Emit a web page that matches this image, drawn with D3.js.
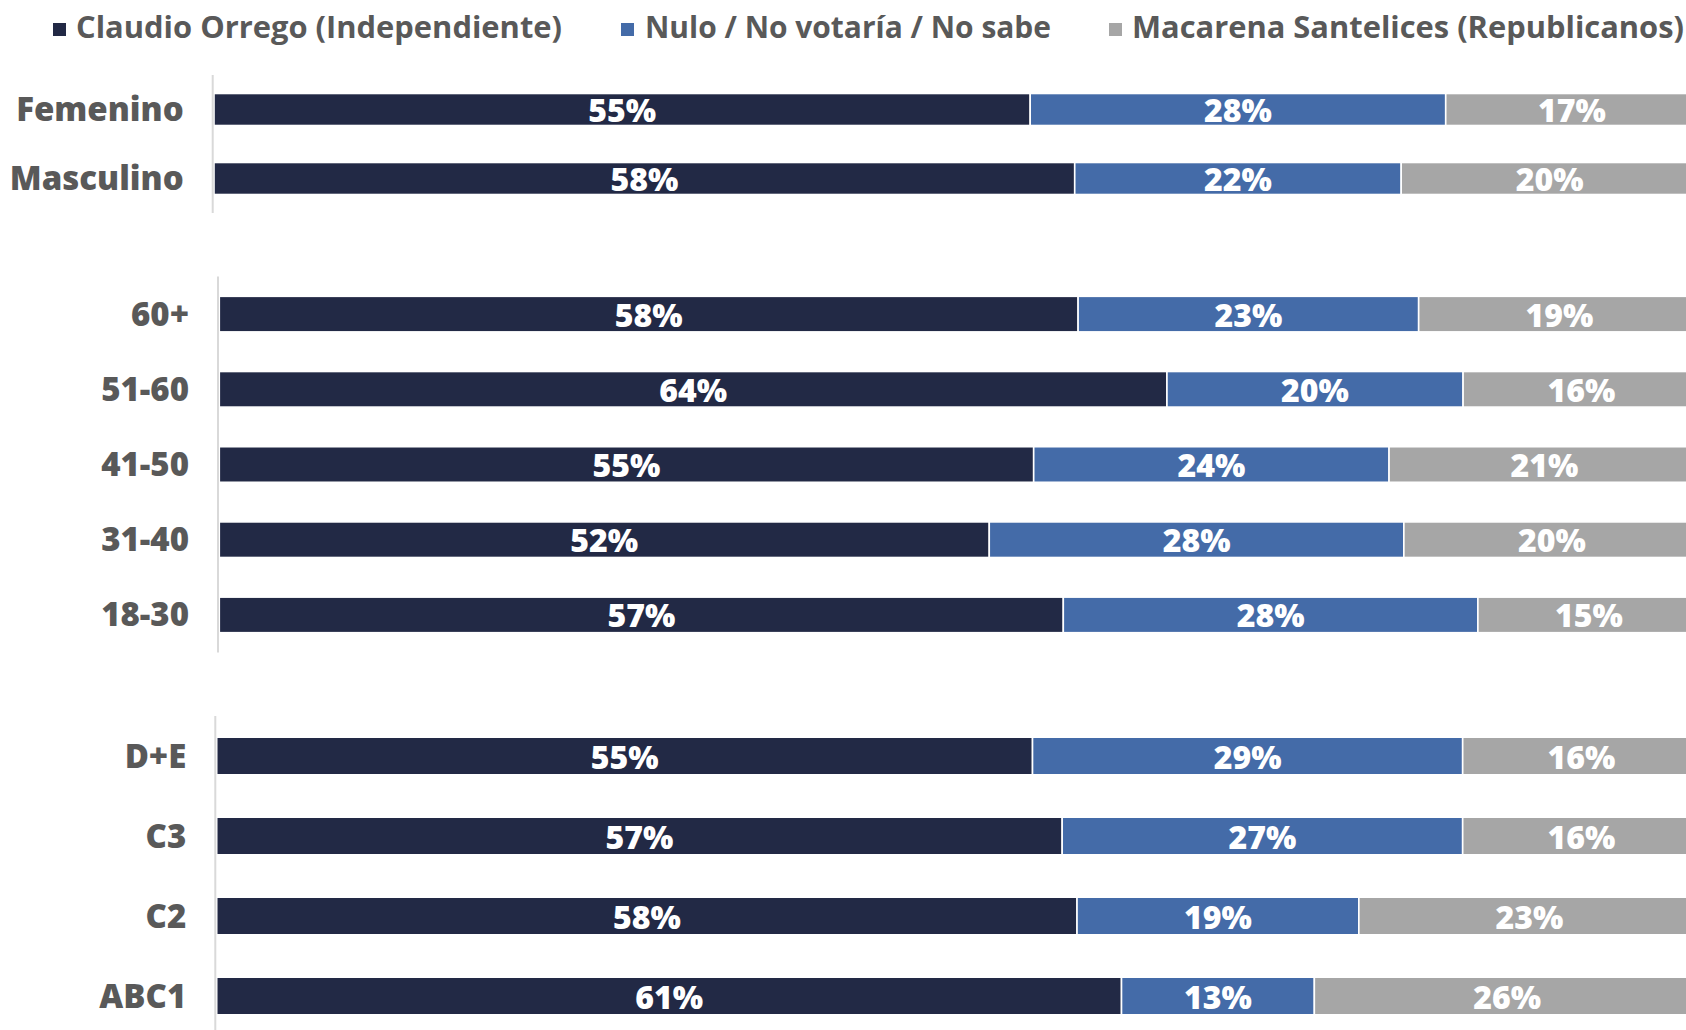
<!DOCTYPE html>
<html>
<head>
<meta charset="utf-8">
<script src="https://cdn.jsdelivr.net/npm/d3@7"></script>
<style>
  html, body { margin: 0; padding: 0; background: #ffffff; }
  svg { display: block; }
</style>
</head>
<body>
<svg id="chart" width="1686" height="1030"></svg>
<script>
// ---- Data ----
const seriesNames = ["Claudio Orrego (Independiente)", "Nulo / No votaría / No sabe", "Macarena Santelices (Republicanos)"];
const seriesColors = ["#222945", "#446BA8", "#A6A6A6"];

const genderCats = ["Femenino", "Masculino"];
const genderOrrego = [55, 58];
const genderNulo = [28, 22];
const genderSantelices = [17, 20];

const ageCats = ["60+", "51-60", "41-50", "31-40", "18-30"];
const ageOrrego = [58, 64, 55, 52, 57];
const ageNulo = [23, 20, 24, 28, 28];
const ageSantelices = [19, 16, 21, 20, 15];

const gseCats = ["D+E", "C3", "C2", "ABC1"];
const gseOrrego = [55, 57, 58, 61];
const gseNulo = [29, 27, 19, 13];
const gseSantelices = [16, 16, 23, 26];

// ---- Layout (panels) ----
const panels = [
  { cats: genderCats, vals: [genderOrrego, genderNulo, genderSantelices],
    axisX: 212.7, x0: 214, x1: 1698, y0: 75, y1: 213, pad: 0.536 },
  { cats: ageCats, vals: [ageOrrego, ageNulo, ageSantelices],
    axisX: 218, x0: 219.3, x1: 1700, y0: 276.5, y1: 652.5, pad: 0.527 },
  { cats: gseCats, vals: [gseOrrego, gseNulo, gseSantelices],
    axisX: 215.3, x0: 216.7, x1: 1700, y0: 716, y1: 1036, pad: 0.53 }
];

const svg = d3.select("#chart");
const labelFont = "'Open Sans', 'DejaVu Sans', sans-serif";

panels.forEach(p => {
  const g = svg.append("g");
  const x = d3.scaleLinear().domain([0, 100]).range([p.x0, p.x1]);
  const y = d3.scaleBand().domain(p.cats).range([p.y0, p.y1])
    .paddingInner(p.pad).paddingOuter(p.pad / 2);

  const rows = p.cats.map((c, i) => {
    let acc = 0;
    return p.vals.map((arr, s) => {
      const d = { cat: c, s: s, v: arr[i], start: acc };
      acc += arr[i];
      return d;
    });
  }).flat();

  g.selectAll("rect.seg").data(rows).enter().append("rect")
    .attr("class", "seg")
    .attr("x", d => x(d.start))
    .attr("y", d => y(d.cat))
    .attr("width", d => x(d.start + d.v) - x(d.start))
    .attr("height", y.bandwidth())
    .attr("fill", d => seriesColors[d.s])
    .attr("stroke", "#ffffff")
    .attr("stroke-width", 1.6);

  g.selectAll("text.val").data(rows).enter().append("text")
    .attr("class", "val")
    .attr("x", d => (x(d.start) + x(d.start + d.v)) / 2)
    .attr("y", d => y(d.cat) + y.bandwidth() / 2)
    .attr("text-anchor", "middle")
    .attr("dominant-baseline", "central")
    .attr("font-family", labelFont)
    .attr("font-weight", 800)
    .attr("font-size", 32)
    .attr("fill", "#ffffff")
    .text(d => d.v + "%");

  // axis line (category axis)
  const axis = d3.axisLeft(y).tickSize(0).tickPadding(29);
  const ag = g.append("g").attr("transform", `translate(${p.axisX},0)`).call(axis);
  ag.select(".domain").attr("stroke", "#D9D9D9").attr("stroke-width", 2)
    .attr("d", `M0,${p.y0}V${Math.min(p.y1, 1030)}`);
  ag.selectAll(".tick text")
    .attr("font-family", labelFont)
    .attr("font-weight", 800)
    .attr("font-size", 33)
    .attr("fill", "#595959")
    .attr("dy", "0.35em");
});

// ---- Legend ----
const legendItems = [
  { sq: 53, tx: 76, w: 486 },
  { sq: 621, tx: 645, w: 406 },
  { sq: 1109, tx: 1132, w: 552 }
];
const lg = svg.append("g");
legendItems.forEach((it, i) => {
  lg.append("rect").attr("x", it.sq).attr("y", 23).attr("width", 13).attr("height", 13)
    .attr("fill", seriesColors[i]);
  lg.append("text").attr("x", it.tx).attr("y", 38)
    .attr("font-family", labelFont).attr("font-weight", 700).attr("font-size", 31)
    .attr("fill", "#595959")
    .attr("textLength", it.w).attr("lengthAdjust", "spacingAndGlyphs")
    .text(seriesNames[i]);
});
</script>
</body>
</html>
